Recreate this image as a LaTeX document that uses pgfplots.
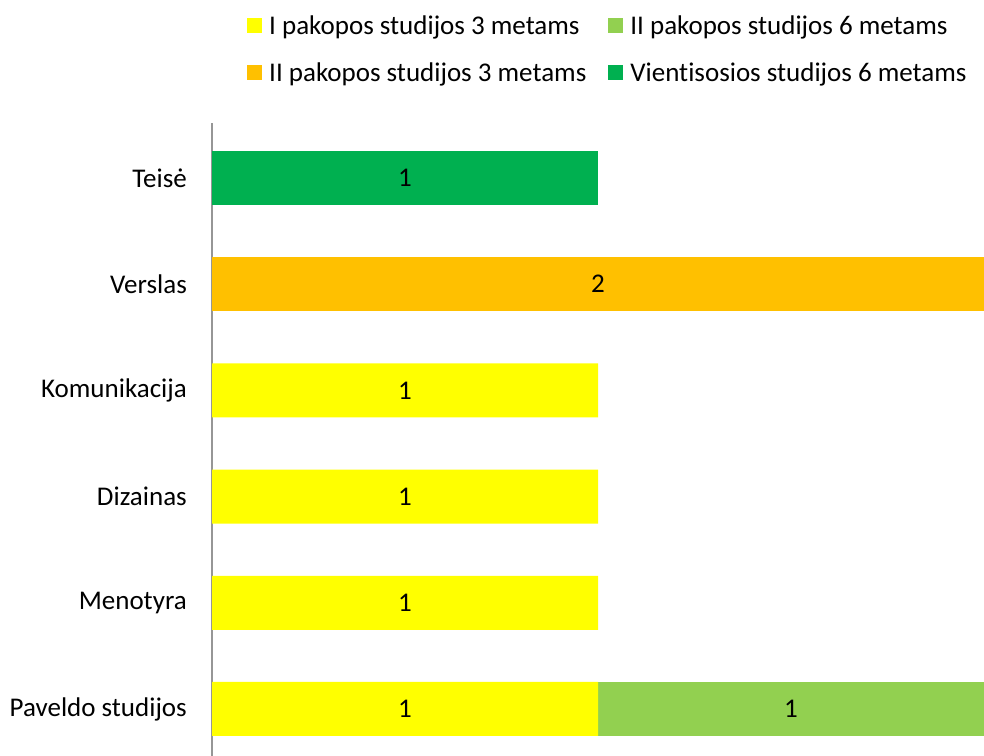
\documentclass[border=0pt]{standalone}
\usepackage{pgfplots}
\pgfplotsset{compat=1.18}
\usepackage{fontspec}
\setmainfont{Carlito}[Ligatures=NoCommon]
\definecolor{cyel}{RGB}{255,255,0}
\definecolor{clgreen}{RGB}{146,208,80}
\definecolor{corange}{RGB}{255,192,0}
\definecolor{cdgreen}{RGB}{0,176,80}
\definecolor{axgray}{RGB}{150,150,150}
\begin{document}
\begin{tikzpicture}[font=\fontsize{27bp}{32bp}\selectfont]
\useasboundingbox (0,0) rectangle (984bp,756bp);
\begin{axis}[
  at={(212bp,0bp)}, anchor=south west, scale only axis,
  width=772bp, height=633bp,
  xbar stacked, bar width=54bp,
  xmin=0, xmax=2, ymin=-0.443, ymax=5.518,
  ytick={0,1,2,3,4,5},
  yticklabels={Paveldo studijos, Menotyra, Dizainas, Komunikacija, Verslas, Teisė},
  hide x axis,
  axis y line=left,
  axis line style={-, draw=axgray, line width=1.2bp},
  major tick length=0pt,
  ytick style={draw=none},
  yticklabel style={anchor=east, inner sep=0pt, xshift=-25bp},
  /pgf/number format/assume math mode=true,
  clip=false,
  point meta=explicit,
  nodes near coords={\pgfmathfloatifflags{\pgfplotspointmeta}{0}{}{\pgfmathprintnumber{\pgfplotspointmeta}}},
  every node near coord/.style={anchor=center, text=black},
  legend columns=2,
  legend image code/.code={\fill[#1] (0bp,-7.5bp) rectangle (15bp,7.5bp);},
  legend style={draw=none, fill=none, at={(0.0415,1.1762)}, anchor=north west,
    cells={anchor=west, inner sep=2bp},
    row sep=23bp,
    /tikz/every odd column/.append style={column sep=5bp},
    /tikz/every even column/.append style={column sep=20bp}},
]
\addplot[fill=cyel, draw=none]
  coordinates {(1,0) [1] (1,1) [1] (1,2) [1] (1,3) [1] (0,4) [0] (0,5) [0]};
\addlegendentry{I pakopos studijos 3 metams}
\addplot[fill=clgreen, draw=none]
  coordinates {(1,0) [1] (0,1) [0] (0,2) [0] (0,3) [0] (0,4) [0] (0,5) [0]};
\addlegendentry{II pakopos studijos 6 metams}
\addplot[fill=corange, draw=none]
  coordinates {(0,0) [0] (0,1) [0] (0,2) [0] (0,3) [0] (2,4) [2] (0,5) [0]};
\addlegendentry{II pakopos studijos 3 metams}
\addplot[fill=cdgreen, draw=none]
  coordinates {(0,0) [0] (0,1) [0] (0,2) [0] (0,3) [0] (0,4) [0] (1,5) [1]};
\addlegendentry{Vientisosios studijos 6 metams}
\end{axis}
\end{tikzpicture}
\end{document}
